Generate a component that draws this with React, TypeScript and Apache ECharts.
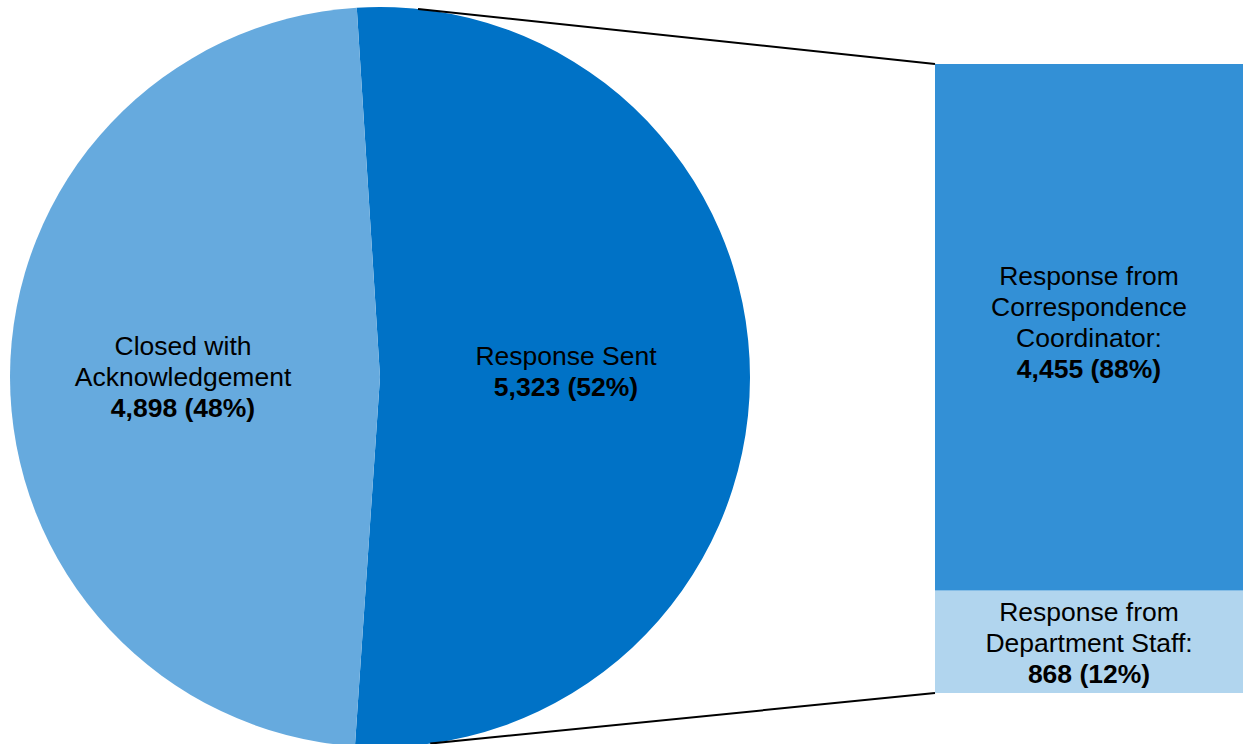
import React, { useEffect, useRef } from "react";
import * as echarts from "echarts";

// ---- data ----
const pieCategories = ["Response Sent", "Closed with\nAcknowledgement"];
const pieValues = [5323, 4898];
const piePercents = ["52%", "48%"];

const barCategories = [
  "Response from\nDepartment Staff:",
  "Response from\nCorrespondence\nCoordinator:",
];
const barValues = [868, 4455];
const barPercents = ["12%", "88%"];

// ---- styles ----
const pieColors = ["#0072C6", "#66AADE"];
const barColors = ["#B1D5EE", "#3390D6"];
const pieLabelOffsets = [[-2, -6], [-9, 0]];
const barLabelOffsets = [[0, 1], [0, -5]];
const FONT = "'Liberation Sans', Arial, sans-serif";
const W = 1243;
const H = 744;
const PIE_C = [380, 377];
const PIE_R = 370;
const GRID = { left: 935, right: 0, top: 64, bottom: 51 };
const CONNECT_ANGLES = [84.1, -82.2];

const fmt = (v: number) => v.toLocaleString("en-US");
const rich = {
  n: { fontFamily: FONT, fontSize: 26.5, lineHeight: 31, color: "#000" },
  b: { fontFamily: FONT, fontSize: 26.5, lineHeight: 31, color: "#000", fontWeight: "bold" },
};
const makeLabel = (name: string, v: number, pct: string) =>
  name
    .split("\n")
    .map((l) => `{n|${l}}`)
    .join("\n") + `\n{b|${fmt(v)} (${pct})}`;

export default function App() {
  const ref = useRef<HTMLDivElement>(null);
  useEffect(() => {
    if (!ref.current) return;
    const chart = echarts.init(ref.current, null, { renderer: "svg" });
    const total = barValues.reduce((a, b) => a + b, 0);
    chart.setOption({
      animation: false,
      backgroundColor: "#fff",
      grid: { ...GRID, containLabel: false },
      xAxis: { type: "category", data: ["sent"], show: false },
      yAxis: { type: "value", min: 0, max: total, show: false },
      series: [
        {
          type: "pie",
          center: PIE_C,
          radius: PIE_R,
          startAngle: 93.6,
          clockwise: true,
          silent: true,
          labelLine: { show: false },
          data: pieCategories.map((name, i) => ({
            name,
            value: pieValues[i],
            itemStyle: { color: pieColors[i], borderWidth: 0 },
            label: {
              show: true,
              position: "inside",
              formatter: makeLabel(name, pieValues[i], piePercents[i]),
              rich,
              align: "center",
              offset: pieLabelOffsets[i],
            },
          })),
        },
        ...barCategories.map((name, i) => ({
          type: "bar",
          stack: "s",
          barWidth: "100%",
          name,
          itemStyle: { color: barColors[i] },
          label: {
            show: true,
            position: "inside",
            formatter: makeLabel(name, barValues[i], barPercents[i]),
            rich,
            align: "center",
            offset: barLabelOffsets[i],
          },
          data: [barValues[i]],
        })),
      ],
    });
    const topPt = chart.convertToPixel({ gridIndex: 0 }, [0, total]) as number[];
    const botPt = chart.convertToPixel({ gridIndex: 0 }, [0, 0]) as number[];
    const pt = (a: number) => [
      PIE_C[0] + PIE_R * Math.cos((a * Math.PI) / 180),
      PIE_C[1] - PIE_R * Math.sin((a * Math.PI) / 180),
    ];
    const p1 = pt(CONNECT_ANGLES[0]);
    const p2 = pt(CONNECT_ANGLES[1]);
    chart.setOption({
      graphic: [
        {
          type: "line",
          shape: { x1: p1[0], y1: p1[1], x2: GRID.left, y2: topPt[1] },
          style: { stroke: "#000", lineWidth: 2 },
          z: 10,
        },
        {
          type: "line",
          shape: { x1: p2[0], y1: p2[1], x2: GRID.left, y2: botPt[1] },
          style: { stroke: "#000", lineWidth: 2 },
          z: 10,
        },
      ],
    });
    return () => chart.dispose();
  }, []);
  return (
    <div
      ref={ref}
      style={{ position: "absolute", left: 0, top: 0, width: W, height: H }}
    />
  );
}
